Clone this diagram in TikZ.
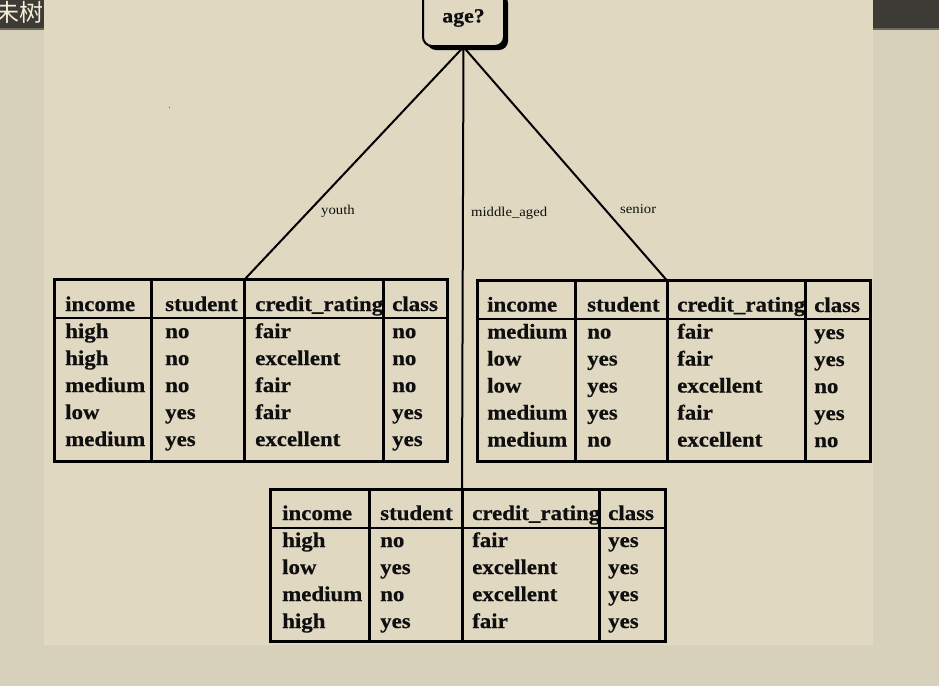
\documentclass[tikz,border=0pt]{standalone}
\usepackage{fontspec}
\usepackage{graphicx}
\setmainfont{Liberation Serif}[BoldFeatures={FakeBold=0.6}]
\newfontfamily\cjk{Noto Sans CJK SC}
\usetikzlibrary{shadows}
\definecolor{outerbg}{RGB}{215,209,187}
\definecolor{panelbg}{RGB}{224,216,193}
\definecolor{band}{RGB}{61,59,53}
\definecolor{bandline}{RGB}{110,106,96}
\definecolor{txt}{RGB}{15,15,15}
\definecolor{cream}{RGB}{245,238,215}
\newcommand\st[1]{\scalebox{1.09}[1]{#1}}
\tikzset{
  cell/.style={anchor=base west, inner sep=0pt, text=txt, font=\fontsize{21}{24}\selectfont\bfseries},
  elabel/.style={anchor=base west, inner sep=0pt, text=txt, font=\fontsize{13.5}{16}\selectfont},
  frame/.style={line width=3pt, draw=black},
  colline/.style={line width=3pt, draw=black},
  hline/.style={line width=2pt, draw=black},
  branch/.style={line width=2pt, draw=black},
  question/.style={draw=black, line width=2pt, rounded corners=9pt, fill=panelbg,
    minimum width=81pt, minimum height=56pt, inner sep=0pt, text=txt,
    font=\fontsize{20}{24}\selectfont\bfseries,
    drop shadow={shadow xshift=4pt, shadow yshift=-4pt, fill=black, opacity=1}}
}
\begin{document}
\begin{tikzpicture}[x=1pt,y=-1pt]
\clip (0,0) rectangle (939,686);
% backgrounds
\fill[outerbg] (0,0) rectangle (939,686);
\fill[band] (0,0) rectangle (939,28);
\fill[bandline] (0,28) rectangle (939,29.5);
\node[anchor=base west, inner sep=0pt, text=cream, font=\cjk\fontsize{24}{28}\selectfont] (title) at (-5,21) {未树};
\fill[panelbg] (44,0) rectangle (873,645);
\fill[black!70] (168.5,106.5) rectangle (170,108);

% root node
\node[question] (age) at (463.5,18) {\st{age?}};

% table anchor coordinates
\coordinate (youthT) at (245,279);
\coordinate (middleT) at (462,489);
\coordinate (seniorT) at (667,280.5);

% branches
\draw[branch] (age.south) -- (youthT);
\draw[branch] (age.south) -- (middleT);
\draw[branch] (age.south) -- (seniorT);

% branch labels
\node[elabel] (lyouth) at (321,214) {\st{youth}};
\node[elabel] (lmiddle) at (471,216) {\st{middle\_aged}};
\node[elabel] (lsenior) at (620,213) {\st{senior}};

% ---------- youth table ----------
\foreach \a/\b/\c/\d [count=\i from 0] in {
  income/student/credit\_rating/class,
  high/no/fair/no,
  high/no/excellent/no,
  medium/no/fair/no,
  low/yes/fair/yes,
  medium/yes/excellent/yes}{
  \node[cell] (y\i a) at (65,311+27*\i) {\st{\a}};
  \node[cell] (y\i b) at (165,311+27*\i) {\st{\b}};
  \node[cell] (y\i c) at (255,311+27*\i) {\st{\c}};
  \node[cell] (y\i d) at (392,311+27*\i) {\st{\d}};
}
\fill[panelbg] (385,285) rectangle (390,317);
\draw[hline] (54.5,317.5) -- (447.5,317.5);
\foreach \xx in {151.5,244.5,383.5} \draw[colline] (\xx,279) -- (\xx,461);
\draw[frame] (54.5,279) rectangle (447.5,461);

% ---------- senior table ----------
\foreach \a/\b/\c/\d [count=\i from 0] in {
  income/student/credit\_rating/class,
  medium/no/fair/yes,
  low/yes/fair/yes,
  low/yes/excellent/no,
  medium/yes/fair/yes,
  medium/no/excellent/no}{
  \node[cell] (s\i a) at (487,311.5+27*\i) {\st{\a}};
  \node[cell] (s\i b) at (587,311.5+27*\i) {\st{\b}};
  \node[cell] (s\i c) at (677,311.5+27*\i) {\st{\c}};
  \node[cell] (s\i d) at (814,312+27*\i) {\st{\d}};
}
\fill[panelbg] (807,286) rectangle (812,318);
\draw[hline] (477.5,318.5) -- (870,318.5);
\foreach \xx in {575,667.5,805.5} \draw[colline] (\xx,280.5) -- (\xx,461);
\draw[frame] (477.5,280.5) rectangle (870,461);

% ---------- middle_aged table ----------
\foreach \a/\b/\c/\d [count=\i from 0] in {
  income/student/credit\_rating/class,
  high/no/fair/yes,
  low/yes/excellent/yes,
  medium/no/excellent/yes,
  high/yes/fair/yes}{
  \node[cell] (m\i a) at (282,520+27*\i) {\st{\a}};
  \node[cell] (m\i b) at (380,520+27*\i) {\st{\b}};
  \node[cell] (m\i c) at (472,520+27*\i) {\st{\c}};
  \node[cell] (m\i d) at (608,520+27*\i) {\st{\d}};
}
\fill[panelbg] (601,495) rectangle (606,527);
\draw[hline] (270.5,528) -- (665,528);
\foreach \xx in {369,462,599.5} \draw[colline] (\xx,489) -- (\xx,641);
\draw[frame] (270.5,489) rectangle (665,641);
\end{tikzpicture}
\end{document}
